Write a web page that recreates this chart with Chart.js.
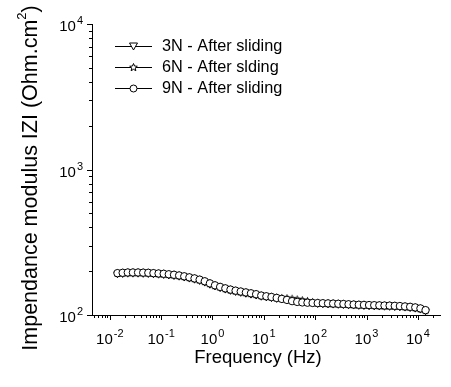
<!DOCTYPE html>
<html><head><meta charset="utf-8">
<script src="https://cdn.jsdelivr.net/npm/chart.js@4.4.1/dist/chart.umd.min.js"></script>
<style>html,body{margin:0;padding:0;background:#fff}#wrap{width:451px;height:387px}</style>
</head><body><div id="wrap"><canvas id="c" width="451" height="387"></canvas></div>
<script>
const freq = [0.0141,0.0178,0.0224,0.0282,0.0355,0.0447,0.0562,0.0708,0.0891,0.112,0.141,0.178,0.224,0.282,0.355,0.447,0.562,0.708,0.891,1.12,1.41,1.78,2.24,2.82,3.55,4.47,5.62,7.08,8.91,11.2,14.1,17.8,22.4,28.2,35.5,44.7,56.2,70.8,89.1,112,141,178,224,282,355,447,562,708,891,1122,1413,1778,2239,2818,3548,4467,5623,7079,8913,11220,14125];
const z9N = [194,195,196,196,196,195.5,195,194,193,192,190.5,189,187,184.5,181.5,178.5,175,170.5,165,160,156,152.5,149.5,147,145,143,141,139,136,134.5,133,131,129,127,124.5,123,122,121.5,121,120.8,120.5,120.2,119.8,119.4,119,118.5,118,117.6,117.3,117,116.8,116.5,116.2,116,115.6,115.2,114.5,113.8,112.8,111,108];
const z6N = [193,194,195,195,195,194.5,194,193,192,191,189.5,188,186,183.5,180.5,177.5,174,169.5,164,159,155,151.5,148.5,146,144,142,140,138,135.5,134,132.5,131,130,129.5,128.5,127,125.5,124,122,120.5,120,119.7,119.3,118.9,118.5,118,117.5,117,116.7,116.3,116,115.7,115.4,115.2,114.8,114.4,113.7,113,112,110.2,107.2];
const z3N = [191,192,193,193,193,192.5,192,191,190,189,187.5,186,184,181.5,178.5,175.5,172,167.5,162,157.5,153.5,150,147,144.5,142.5,140.5,138.5,136.5,134,132.5,131,129.5,128.5,128,127.5,126.5,125,123.5,121,119.5,119,118.7,118.3,117.9,117.5,117,116.5,116,115.7,115.3,115,114.7,114.4,114.2,113.8,113.4,112.8,112,111,109.3,106.3];
const seriesNames = ['3N - After sliding','6N - After slding','9N - After sliding'];
const xMajor = [-2,-1,0,1,2,3,4];
const yMajor = [2,3,4];

function makeStar(r){
  const s = Math.ceil(r*2+3), c = document.createElement('canvas');
  c.width = s; c.height = s; const g = c.getContext('2d');
  g.translate(s/2, s/2); g.beginPath();
  for(let i=0;i<10;i++){
    const a = -Math.PI/2 + i*Math.PI/5, rr = i%2 ? r*0.45 : r;
    g.lineTo(rr*Math.cos(a), rr*Math.sin(a));
  }
  g.closePath(); g.fillStyle='#fff'; g.fill(); g.strokeStyle='#000'; g.lineWidth=1; g.stroke();
  return c;
}
const starImg = makeStar(4);

const FONT = '"Liberation Sans", Arial, sans-serif';

function drawPow(ctx, cx, baseY, exp, align){
  ctx.font = '15px ' + FONT;
  const w1 = ctx.measureText('10').width;
  ctx.font = '11px ' + FONT;
  const w2 = ctx.measureText(exp).width;
  const total = w1 + w2 + 1;
  let left = align === 'center' ? cx - total/2 : cx - total;
  ctx.fillStyle = '#000'; ctx.textAlign='left'; ctx.textBaseline='alphabetic';
  ctx.font = '15px ' + FONT;
  ctx.fillText('10', left, baseY);
  ctx.font = '11px ' + FONT;
  ctx.fillText(exp, left + w1 + 1, baseY - 7);
}

const axesPlugin = {
  id: 'originAxes',
  afterDraw(chart){
    const ctx = chart.ctx, xs = chart.scales.x, ys = chart.scales.y, ca = chart.chartArea;
    ctx.save();
    ctx.strokeStyle = '#000'; ctx.lineWidth = 1;
    for(let d=-3; d<=5; d++){
      for(let m=1; m<=9; m++){
        const v = m*Math.pow(10,d);
        if(v < xs.min || v > xs.max) continue;
        const px = Math.round(xs.getPixelForValue(v)) + 0.5;
        const len = m===1 ? 5 : 3;
        ctx.beginPath(); ctx.moveTo(px, ca.bottom); ctx.lineTo(px, ca.bottom + len); ctx.stroke();
      }
    }
    for(let d=1; d<=4; d++){
      for(let m=1; m<=9; m++){
        const v = m*Math.pow(10,d);
        if(v < ys.min || v > ys.max*1.0001) continue;
        const py = Math.round(ys.getPixelForValue(v)) + 0.5;
        const len = m===1 ? 5 : 3;
        ctx.beginPath(); ctx.moveTo(ca.left, py); ctx.lineTo(ca.left - len, py); ctx.stroke();
      }
    }
    xMajor.forEach(e => drawPow(ctx, xs.getPixelForValue(Math.pow(10,e)), 344, String(e), 'center'));
    yMajor.forEach(e => drawPow(ctx, ca.left - 9, ys.getPixelForValue(Math.pow(10,e)) + 7, String(e), 'right'));
    ctx.fillStyle = '#000';
    ctx.font = '18.5px ' + FONT; ctx.textAlign = 'center'; ctx.textBaseline = 'middle';
    ctx.fillText('Frequency (Hz)', 258, 358);
    ctx.save(); ctx.translate(29, 178); ctx.rotate(-Math.PI/2);
    const big = '21.5px ' + FONT, small = '13px ' + FONT;
    const p1 = 'Impendance modulus IZI (Ohm.cm', p2 = '2', p3 = ')';
    ctx.font = big; const w1 = ctx.measureText(p1).width, w3 = ctx.measureText(p3).width;
    ctx.font = small; const w2 = ctx.measureText(p2).width;
    let sx = -(w1 + w2 + w3)/2;
    ctx.textAlign = 'left'; ctx.textBaseline = 'alphabetic';
    ctx.font = big; ctx.fillText(p1, sx, 8);
    ctx.font = small; ctx.fillText(p2, sx + w1, -3);
    ctx.font = big; ctx.fillText(p3, sx + w1 + w2, 8);
    ctx.restore();
    const rows = [46, 67, 88];
    chart.data.datasets.forEach((ds, i) => {
      const y = rows[i];
      ctx.strokeStyle = '#000'; ctx.lineWidth = 1;
      ctx.beginPath(); ctx.moveTo(115, y + 0.5); ctx.lineTo(152, y + 0.5); ctx.stroke();
      const mx = 133.5;
      if(i === 0){
        ctx.beginPath(); ctx.moveTo(mx-4, y-3); ctx.lineTo(mx+4, y-3); ctx.lineTo(mx, y+4); ctx.closePath();
        ctx.fillStyle='#fff'; ctx.fill(); ctx.stroke();
      } else if(i === 1){
        ctx.drawImage(starImg, Math.round(mx - starImg.width/2), Math.round(y + 0.5 - starImg.height/2));
      } else {
        ctx.beginPath(); ctx.arc(mx, y + 0.5, 3.5, 0, Math.PI*2); ctx.fillStyle='#fff'; ctx.fill(); ctx.stroke();
      }
      ctx.fillStyle = '#000'; ctx.font = '16.3px ' + FONT; ctx.textAlign='left'; ctx.textBaseline='middle';
      ctx.fillText(ds.label, 162, y + 1);
    });
    ctx.restore();
  }
};

const mk = (label, data, style, order) => ({
  label, order,
  data: freq.map((f, i) => ({x: f, y: data[i]})),
  borderColor: '#000', borderWidth: 1, backgroundColor: '#fff',
  pointBackgroundColor: '#fff', pointBorderColor: '#000', pointBorderWidth: 1,
  pointRadius: 3.7, pointStyle: style, pointRotation: style === 'triangle' ? 180 : 0,
  tension: 0, fill: false
});

new Chart(document.getElementById('c'), {
  type: 'line',
  data: { datasets: [
    mk(seriesNames[0], z3N, 'triangle', 3),
    mk(seriesNames[1], z6N, starImg, 2),
    mk(seriesNames[2], z9N, 'circle', 1)
  ]},
  options: {
    responsive: false, animation: false, devicePixelRatio: 1,
    layout: { padding: { left: 92, top: 24, right: 11, bottom: 72 } },
    plugins: { legend: { display: false }, tooltip: { enabled: false } },
    scales: {
      x: { type: 'logarithmic', min: 0.0045, max: 27000,
           grid: { display: false, drawTicks: false }, ticks: { display: false },
           border: { display: true, color: '#000', width: 1 } },
      y: { type: 'logarithmic', min: 100, max: 10000,
           grid: { display: false, drawTicks: false }, ticks: { display: false },
           border: { display: true, color: '#000', width: 1 } }
    }
  },
  plugins: [axesPlugin]
});
</script>
</body></html>
